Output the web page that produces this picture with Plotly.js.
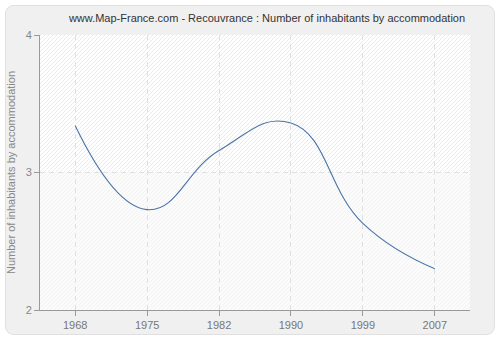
<!DOCTYPE html>
<html><head><meta charset="utf-8">
<script src="https://cdn.plot.ly/plotly-3.0.1.min.js"></script>
<style>html,body{margin:0;padding:0;background:#fff;}#chart{width:500px;height:340px;}</style>
</head><body><div id="chart"></div>
<script>
const years = ['1968', '1975', '1982', '1990', '1999', '2007'];
const inhabitantsPerAccommodation = [3.34, 2.73, 3.16, 3.36, 2.63, 2.30];
const yTicks = [2, 3, 4];
const titleText = 'www.Map-France.com - Recouvrance : Number of inhabitants by accommodation';
const yTitle = 'Number of inhabitants by accommodation';

const W = 500, H = 340, L = 40, R = 30, T = 35, B = 30;
const pw = W - L - R, ph = H - T - B;

// page background: rounded grey frame + hatched plot area (upper band stronger, lower band faint)
const bgSvg =
  `<svg xmlns='http://www.w3.org/2000/svg' width='${W}' height='${H}' viewBox='0 0 ${W} ${H}'>` +
  `<defs>` +
  `<pattern id='a' width='4' height='4' patternUnits='userSpaceOnUse'><rect width='4' height='4' fill='#ffffff'/><path d='M-1,1 l2,-2 M0,4 l4,-4 M3,5 l2,-2' stroke='#ebebeb' stroke-width='1'/></pattern>` +
  `<pattern id='b' width='4' height='4' patternUnits='userSpaceOnUse'><rect width='4' height='4' fill='#fbfbfb'/><path d='M-1,1 l2,-2 M0,4 l4,-4 M3,5 l2,-2' stroke='#f3f3f3' stroke-width='1'/></pattern>` +
  `</defs>` +
  `<rect x='0' y='0' width='${W}' height='${H}' fill='#ffffff'/>` +
  `<rect x='5.5' y='5.5' width='${W - 11}' height='${H - 11}' rx='8' ry='8' fill='#f0f0f0' stroke='#e0e0e0' stroke-width='1'/>` +
  `<rect x='${L}' y='${T}' width='${pw}' height='${ph / 2}' fill='url(#a)'/>` +
  `<rect x='${L}' y='${T + ph / 2}' width='${pw}' height='${ph / 2}' fill='url(#b)'/>` +
  `</svg>`;
const bgUri = 'data:image/svg+xml;charset=utf-8,' + encodeURIComponent(bgSvg);

const line = {
  type: 'scatter', mode: 'lines',
  x: years, y: inhabitantsPerAccommodation,
  line: {color: '#4a75a7', width: 1.1, shape: 'spline', smoothing: 1.3},
  showlegend: false
};

const layout = {
  width: W, height: H,
  margin: {l: L, r: R, t: T, b: B, pad: 0},
  paper_bgcolor: '#ffffff', plot_bgcolor: 'rgba(0,0,0,0)',
  font: {family: 'Liberation Sans, Arial, sans-serif', size: 11, color: '#777'},
  title: {text: titleText, x: 267 / W, xanchor: 'center', y: 1 - 18 / H, yanchor: 'middle', font: {size: 11, color: '#333'}},
  xaxis: {
    type: 'category', range: [-0.49, 5.49],
    showgrid: true, gridcolor: '#e0e0e0', gridwidth: 1, griddash: '5px,4px', zeroline: false,
    showline: true, linecolor: '#999', linewidth: 1,
    ticks: 'outside', ticklen: 5, tickcolor: '#999', tickfont: {size: 11, color: '#777'}, fixedrange: true
  },
  yaxis: {
    range: [2, 4], tickvals: yTicks,
    showgrid: true, gridcolor: '#e0e0e0', gridwidth: 1, griddash: '5px,4px', zeroline: false,
    showline: true, linecolor: '#999', linewidth: 1,
    ticks: 'outside', ticklen: 5, tickcolor: '#999', tickfont: {size: 11, color: '#888'},
    title: {text: yTitle, font: {size: 11, color: '#888'}, standoff: 7}, fixedrange: true
  },
  images: [{
    source: bgUri, xref: 'paper', yref: 'paper',
    x: -L / pw, y: 1 + T / ph, sizex: W / pw, sizey: H / ph,
    xanchor: 'left', yanchor: 'top', sizing: 'stretch', layer: 'below'
  }]
};

Plotly.newPlot('chart', [line], layout, {displayModeBar: false, staticPlot: true});
</script></body></html>
